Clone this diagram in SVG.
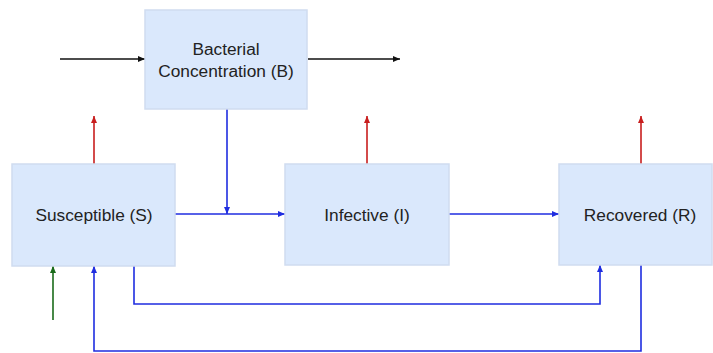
<svg xmlns="http://www.w3.org/2000/svg" width="713" height="353" viewBox="0 0 713 353">
<style>
.box{fill:#dae8fc;stroke:#cfdcf0;stroke-width:1.5}
.t{font-family:"Liberation Sans",Arial,sans-serif;font-size:17.3px;fill:#222;text-anchor:middle}
.blue{stroke:#1f2de0;stroke-width:1.6;fill:none}
.red{stroke:#c81e1e;stroke-width:1.6;fill:none}
.blk{stroke:#111;stroke-width:1.4;fill:none}
.grn{stroke:#1a6b1a;stroke-width:1.6;fill:none}
</style>
<defs>
<marker id="ab" markerWidth="8" markerHeight="8" refX="7" refY="4" orient="auto" markerUnits="userSpaceOnUse"><path d="M0,1 L7,4 L0,7 Z" fill="#1f2de0"/></marker>
<marker id="ar" markerWidth="8" markerHeight="8" refX="7" refY="4" orient="auto" markerUnits="userSpaceOnUse"><path d="M0,1 L7,4 L0,7 Z" fill="#c81e1e"/></marker>
<marker id="ak" markerWidth="8" markerHeight="8" refX="7" refY="4" orient="auto" markerUnits="userSpaceOnUse"><path d="M0,1 L7,4 L0,7 Z" fill="#111"/></marker>
<marker id="ag" markerWidth="8" markerHeight="8" refX="7" refY="4" orient="auto" markerUnits="userSpaceOnUse"><path d="M0,1 L7,4 L0,7 Z" fill="#1a6b1a"/></marker>
</defs>
<rect width="713" height="353" fill="#fff"/>
<g id="connectors">
<line class="blk" x1="60" y1="59" x2="145" y2="59" marker-end="url(#ak)"/>
<line class="blk" x1="308" y1="59" x2="400" y2="59" marker-end="url(#ak)"/>
<line class="red" x1="94" y1="164" x2="94" y2="116" marker-end="url(#ar)"/>
<line class="red" x1="367" y1="164" x2="367" y2="116" marker-end="url(#ar)"/>
<line class="red" x1="641" y1="164" x2="641" y2="116" marker-end="url(#ar)"/>
<line class="blue" x1="227" y1="109" x2="227" y2="214" marker-end="url(#ab)"/>
<line class="blue" x1="175" y1="214" x2="285" y2="214" marker-end="url(#ab)"/>
<line class="blue" x1="449" y1="214" x2="559" y2="214" marker-end="url(#ab)"/>
<line class="grn" x1="53" y1="320" x2="53" y2="266" marker-end="url(#ag)"/>
<path class="blue" d="M134,266 V304 H600 V265" marker-end="url(#ab)"/>
<path class="blue" d="M641,265 V351 H94 V266" marker-end="url(#ab)"/>
</g>
<g id="B"><rect class="box" x="145" y="10" width="162" height="99"/><text class="t" x="226" y="55">Bacterial</text><text class="t" x="226" y="77">Concentration (B)</text></g>
<g id="S"><rect class="box" x="12" y="164" width="163" height="102"/><text class="t" x="94" y="221">Susceptible (S)</text></g>
<g id="I"><rect class="box" x="285" y="164" width="164" height="101"/><text class="t" x="367" y="221">Infective (I)</text></g>
<g id="R"><rect class="box" x="559" y="164" width="153" height="101"/><text class="t" x="640" y="221">Recovered (R)</text></g>
</svg>
